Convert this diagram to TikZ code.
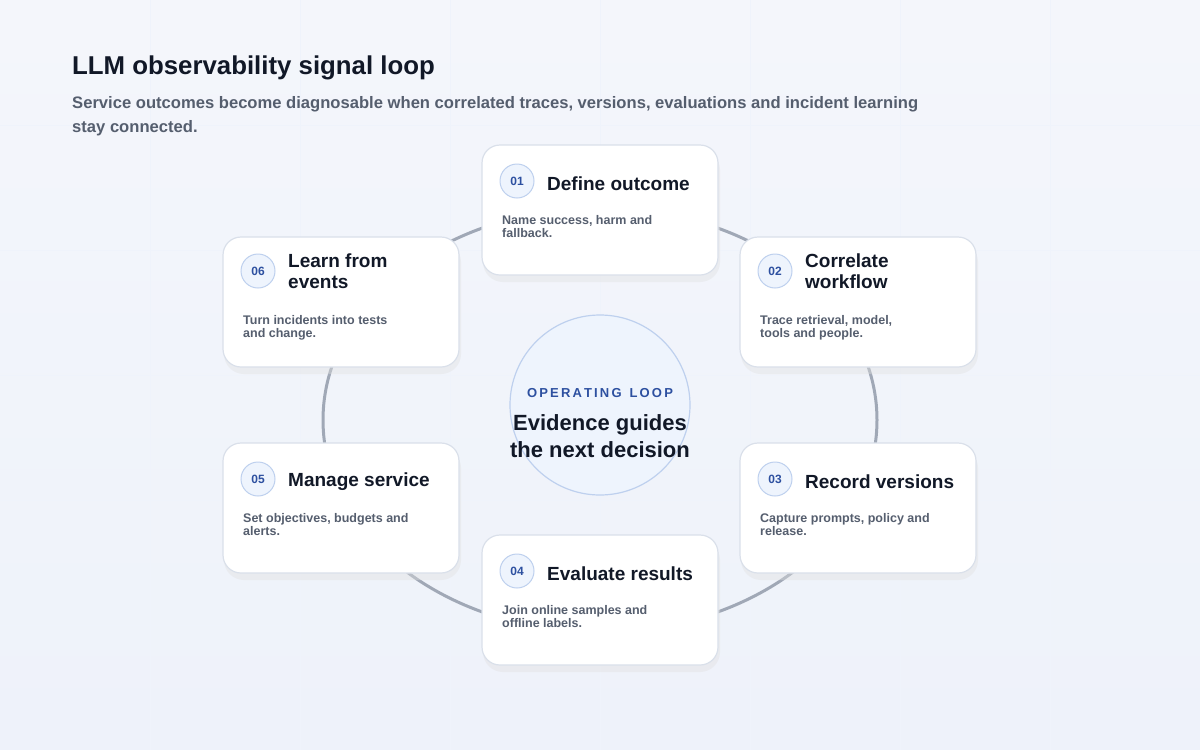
\documentclass[tikz,border=0pt]{standalone}
\usepackage{fontspec}
\setmainfont{Liberation Sans}
\definecolor{ink}{RGB}{17,24,39}
\definecolor{gray6}{RGB}{85,94,110}
\definecolor{bluet}{RGB}{45,80,160}
\definecolor{ring}{RGB}{160,168,182}
\definecolor{bbord}{RGB}{190,208,238}
\definecolor{bfill}{RGB}{238,244,253}
\definecolor{cbord}{RGB}{218,224,234}
\begin{document}
\begin{tikzpicture}[x=1pt,y=-1pt,
  card/.style={draw=cbord,line width=1.2pt,fill=white,rounded corners=18pt,minimum width=236pt,minimum height=130pt,inner sep=0pt},
  badge/.style={circle,draw=bbord,line width=1pt,fill=bfill,minimum size=34pt,inner sep=0pt,font=\bfseries\fontsize{12}{12}\selectfont,text=bluet},
  ttl/.style={anchor=west,font=\bfseries\fontsize{19}{21}\selectfont,text=ink,align=left,inner sep=0pt},
  dsc/.style={anchor=north west,font=\bfseries\fontsize{12.5}{13}\selectfont,text=gray6,align=left,inner sep=0pt}]
\useasboundingbox (0,0) rectangle (1200,750);
\shade[top color={rgb,255:red,244;green,246;blue,251},bottom color={rgb,255:red,238;green,242;blue,250}] (0,0) rectangle (1200,750);
\foreach \x in {150,300,...,1050} \draw[bbord!25,line width=0.8pt] (\x,0)--(\x,750);
\foreach \y in {125,250,...,625} \draw[bbord!25,line width=0.8pt] (0,\y)--(1200,\y);
\node[anchor=west,inner sep=0,font=\bfseries\fontsize{25.8}{27}\selectfont,text=ink] (t) at (72,68) {LLM observability signal loop};
\node[anchor=north west,inner sep=0,align=left,font=\bfseries\fontsize{16.6}{24}\selectfont,text=gray6] (s) at (72,96) {Service outcomes become diagnosable when correlated traces, versions, evaluations and incident learning\\stay connected.};
\coordinate (c) at (600,420);
\draw[ring,line width=3pt] (c) ellipse [x radius=277,y radius=212];
\node[circle,draw=bbord,line width=1.2pt,fill=bfill,minimum size=180pt] (mid) at (600,405) {};
\node[font=\bfseries\fontsize{13}{13}\selectfont,text=bluet] (ol) at (600,393) {O\,P\,E\,R\,A\,T\,I\,N\,G\, \,L\,O\,O\,P};
\node[font=\bfseries\fontsize{22}{27}\selectfont,text=ink,align=center] (eg) at (600,436) {Evidence guides\\the next decision};
\foreach \n/\x/\y/\num/\t/\d/\ty/\dy/\by in {
 a/600/210/01/{Define outcome}/{Name success, harm and\\fallback.}/-26/5/-29,
 b/858/302/02/{Correlate\\workflow}/{Trace retrieval, model,\\tools and people.}/-31/13/-31,
 c3/858/508/03/{Record versions}/{Capture prompts, policy and\\release.}/-26/5/-29,
 d/600/600/04/{Evaluate results}/{Join online samples and\\offline labels.}/-26/5/-29,
 e/341/508/05/{Manage service}/{Set objectives, budgets and\\alerts.}/-26/5/-29,
 f/341/302/06/{Learn from\\events}/{Turn incidents into tests\\and change.}/-31/13/-31} {
  \fill[black!12,opacity=0.4,rounded corners=20pt] (\x-117,\y-60) rectangle (\x+120,\y+72);
  \node[card] (\n) at (\x,\y) {};
  \node[badge] (\n b) at (\x-83,\y+\by) {\num};
  \node[ttl] (\n t) at (\x-53,\y+\ty) {\t};
  \node[dsc] (\n d) at (\x-98,\y+\dy) {\d};
}
\end{tikzpicture}
\end{document}
